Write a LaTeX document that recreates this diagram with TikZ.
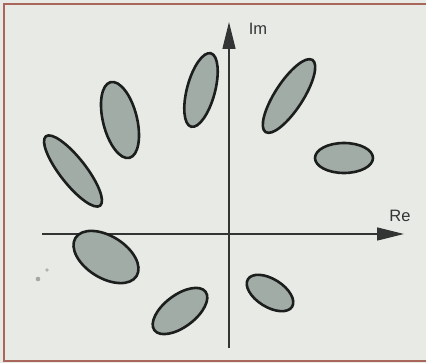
\documentclass[tikz,border=0pt]{standalone}
\usepackage{fontspec}
\setmainfont{Liberation Sans}
\usetikzlibrary{arrows.meta}
\definecolor{paper}{HTML}{E8EAE6}
\definecolor{frame}{HTML}{A8675A}
\definecolor{blob}{HTML}{A2ACA6}
\definecolor{ink}{HTML}{1C1E1D}
\definecolor{axisc}{HTML}{333534}
\tikzset{
  blobstyle/.style={draw=ink, line width=2.6pt, fill=blob},
  axisline/.style={draw=axisc, line width=1.3pt, -{Triangle[length=27pt,width=13pt]}},
  axlabel/.style={text=axisc, font=\fontsize{16.5}{16.5}\selectfont, inner sep=0pt},
  framel/.style={draw=frame, line width=2pt}
}
\begin{document}
\begin{tikzpicture}[x=1pt,y=1pt]
\useasboundingbox (0,0) rectangle (426,-363);
\fill[paper] (0,0) rectangle (426,-363);
% frame
\coordinate (fTL) at (4,-4);
\coordinate (fTR) at (426,-4);
\coordinate (fBL) at (4,-361);
\coordinate (fBR) at (426,-361);
\draw[framel] (fTR) -- (fTL) -- (fBL) -- (fBR);
% axes
\coordinate (xs) at (42,-234);
\coordinate (xe) at (404,-234);
\coordinate (ys) at (229,-348);
\coordinate (ye) at (229,-22);
\draw[axisline] (xs) -- (xe);
\draw[axisline] (ys) -- (ye);
\node[axlabel] (im) at (258,-29) {Im};
\node[axlabel] (re) at (400,-216) {Re};
% specks
\fill[gray!70] (38,-279) circle (2.3pt);
\fill[gray!60] (47,-270) circle (1.8pt);
% ellipses
\draw[blobstyle, rotate around={104:(120,-120)}] (120,-120) ellipse [x radius=39, y radius=17];
\draw[blobstyle, rotate around={75:(201,-90)}] (201,-90) ellipse [x radius=38, y radius=14];
\draw[blobstyle, rotate around={57:(289,-96)}] (289,-96) ellipse [x radius=43, y radius=14];
\draw[blobstyle] (344,-158) ellipse [x radius=29, y radius=15];
\draw[blobstyle, rotate around={128:(73,-171)}] (73,-171) ellipse [x radius=44, y radius=13];
\draw[blobstyle, rotate around={-32:(106,-257)}] (106,-257) ellipse [x radius=36, y radius=21];
\draw[blobstyle, rotate around={37:(180,-311)}] (180,-311) ellipse [x radius=32, y radius=16];
\draw[blobstyle, rotate around={-32:(270,-293)}] (270,-293) ellipse [x radius=26, y radius=14];
\end{tikzpicture}
\end{document}
